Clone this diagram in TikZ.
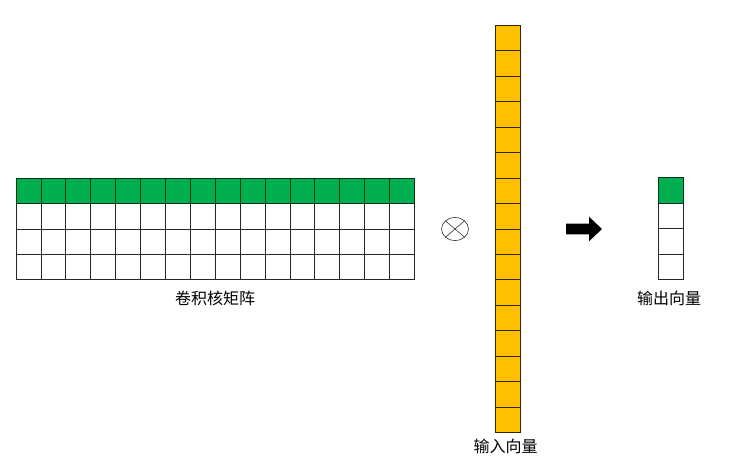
\documentclass[tikz,border=0pt]{standalone}
\usepackage{fontspec}
\usetikzlibrary{shapes.geometric}
\newfontfamily\cjk{Noto Sans CJK SC}
\definecolor{cgreen}{HTML}{00B050}
\definecolor{cgold}{HTML}{FFC000}
\begin{document}
\begin{tikzpicture}[x=1pt,y=-1pt,
  cellbox/.style={draw=black!85, line width=0.7pt, inner sep=0pt, outer sep=0pt, anchor=north west},
  mcell/.style={cellbox, minimum width=24.9pt, minimum height=25.2pt},
  vcell/.style={cellbox, fill=cgold, draw=black!80!cgold, minimum width=25.3pt, minimum height=25.45pt},
  ocell/.style={cellbox, minimum width=25pt, minimum height=25.5pt},
  lbl/.style={font=\cjk\fontsize{16}{18}\selectfont, inner sep=0pt, text=black}]
\useasboundingbox (0,0) rectangle (747,472);
\fill[white] (0,0) rectangle (747,472);
% convolution kernel matrix
\foreach \r in {1,2,3} {
  \foreach \c in {0,...,15} {
    \node[mcell, fill=white] (m-\r-\c) at ({16+\c*24.9},{178.5+\r*25.2}) {};
  }
}
\foreach \c in {0,...,15} {
  \node[mcell, fill=cgreen, draw=black!70!cgreen] (m-0-\c) at ({16+\c*24.9},178.5) {};
}
\node[lbl] (mlabel) at (215,298.5) {卷积核矩阵};
% otimes
\node[draw=black!80, line width=0.6pt, ellipse, minimum width=27pt, minimum height=23pt, inner sep=0pt] (ot) at (455,229) {};
\draw[black!80, line width=0.6pt] (ot.north west) -- (ot.south east) (ot.north east) -- (ot.south west);
% input vector
\foreach \r in {0,...,15} {
  \node[vcell] (v-\r) at (495.3,{25.3+\r*25.45}) {};
}
\node[lbl] (vlabel) at (505.5,446.5) {输入向量};
% arrow
\fill[black] (566,223.7) -- (589,223.7) -- (589,216.7) -- (602,229) -- (589,241.3) -- (589,234.3) -- (566,234.3) -- cycle;
% output vector
\node[ocell, fill=cgreen, draw=black!70!cgreen] (o-0) at (658.5,177.8) {};
\foreach \r in {1,2,3} {
  \node[ocell, fill=white] (o-\r) at (658.5,{177.8+\r*25.5}) {};
}
\node[lbl] (olabel) at (669,298.5) {输出向量};
\end{tikzpicture}
\end{document}
